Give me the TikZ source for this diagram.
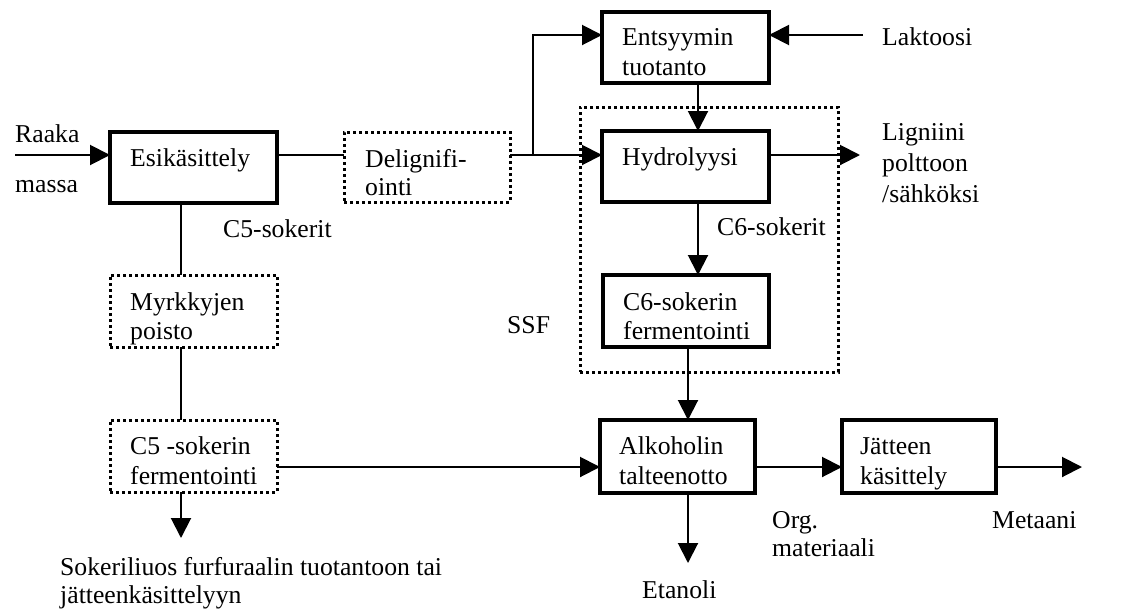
\documentclass[tikz,border=0pt]{standalone}
\usepackage{fontspec}
\setmainfont{Liberation Serif}
\usetikzlibrary{arrows.meta}
\tikzset{
  box/.style={draw, line width=3.5pt, inner sep=0pt, outer sep=0pt},
  dbox/.style={draw, line width=3pt, dash pattern=on 3pt off 3pt, inner sep=0pt, outer sep=0pt},
  txt/.style={anchor=base west, inner sep=0pt, font=\fontsize{25.7}{30}\selectfont},
  conn/.style={line width=2pt},
  arr/.style={line width=2pt, -{Triangle[length=20pt,width=20pt]}}
}
\newcommand{\mybox}[6]{\node[#1, minimum width={#4-#2}, minimum height={#5-#3}] (#6) at ({(#2+#4)/2},{(#3+#5)/2}) {};}
\begin{document}
\begin{tikzpicture}[x=1pt,y=-1pt]
\useasboundingbox (0,0) rectangle (1122,611);
% boxes
\mybox{box}{110}{132}{277}{203}{esi}
\mybox{dbox}{344}{132}{510}{202}{del}
\mybox{box}{602}{12}{769}{83}{ent}
\mybox{box}{602}{131}{769}{202}{hyd}
\mybox{box}{603}{275}{769}{347}{csix}
\mybox{dbox}{580}{107}{838}{372}{ssf}
\mybox{dbox}{110}{275}{277}{347}{myr}
\mybox{dbox}{110}{420}{277}{492}{cfive}
\mybox{box}{600}{420}{755}{493}{alk}
\mybox{box}{842}{420}{996}{493}{jat}
% texts
\node[txt] (t1) at (15,142) {Raaka};
\node[txt] (t2) at (15,192) {massa};
\node[txt] (t3) at (130,166) {Esikäsittely};
\node[txt] (t4) at (365,167) {Delignifi-};
\node[txt] (t5) at (365,195) {ointi};
\node[txt] (t6) at (622,45) {Entsyymin};
\node[txt] (t7) at (622,75) {tuotanto};
\node[txt] (t8) at (882,45) {Laktoosi};
\node[txt] (t9) at (622,165) {Hydrolyysi};
\node[txt] (t10) at (882,140) {Ligniini};
\node[txt] (t11) at (882,171) {polttoon};
\node[txt] (t12) at (882,202) {/sähköksi};
\node[txt] (t13) at (223,237) {C5-sokerit};
\node[txt] (t14) at (717,235) {C6-sokerit};
\node[txt] (t15) at (507,333) {SSF};
\node[txt] (t16) at (623,310) {C6-sokerin};
\node[txt] (t17) at (623,339) {fermentointi};
\node[txt] (t18) at (130,310) {Myrkkyjen};
\node[txt] (t19) at (130,339) {poisto};
\node[txt] (t20) at (130,454) {C5 -sokerin};
\node[txt] (t21) at (130,484) {fermentointi};
\node[txt] (t22) at (619,454) {Alkoholin};
\node[txt] (t23) at (619,484) {talteenotto};
\node[txt] (t24) at (860,454) {Jätteen};
\node[txt] (t25) at (860,484) {käsittely};
\node[txt] (t26) at (772,528) {Org.};
\node[txt] (t27) at (772,556) {materiaali};
\node[txt] (t28) at (992,528) {Metaani};
\node[txt] (t29) at (642,598) {Etanoli};
\node[txt] (t30) at (60,575) {Sokeriliuos furfuraalin tuotantoon tai};
\node[txt] (t31) at (60,603) {jätteenkäsittelyyn};
% coordinates
\coordinate (rin) at (15,155);
\coordinate (j1) at (533,155);
\coordinate (eny) at (0,35);
\coordinate (lak) at (863,35);
\coordinate (xa) at (698,0);
\coordinate (xb) at (688,0);
\coordinate (xc) at (181,0);
\coordinate (lig) at (860,155);
\coordinate (yc) at (0,467);
\coordinate (met) at (1082,467);
\coordinate (eta) at (688,563);
\coordinate (sok) at (181,538);
% connectors
\draw[arr] (rin) -- (rin -| esi.west);
\draw[conn] (esi.east |- j1) -- (del.west |- j1);
\draw[conn] (del.east |- j1) -- (j1);
\draw[arr] (j1) -- (hyd.west |- j1);
\draw[arr] (j1) |- (ent.west |- eny);
\draw[arr] (lak) -- (lak -| ent.east);
\draw[arr] (ent.south -| xa) -- (hyd.north -| xa);
\draw[arr] (hyd.east |- j1) -- (lig);
\draw[arr] (hyd.south -| xa) -- (csix.north -| xa);
\draw[arr] (csix.south -| xb) -- (alk.north -| xb);
\draw[conn] (esi.south -| xc) -- (myr.north -| xc);
\draw[conn] (myr.south -| xc) -- (cfive.north -| xc);
\draw[arr] (cfive.south -| xc) -- (sok);
\draw[arr] (cfive.east |- yc) -- (alk.west |- yc);
\draw[arr] (alk.east |- yc) -- (jat.west |- yc);
\draw[arr] (jat.east |- yc) -- (met);
\draw[arr] (alk.south -| xb) -- (eta);
\end{tikzpicture}
\end{document}
